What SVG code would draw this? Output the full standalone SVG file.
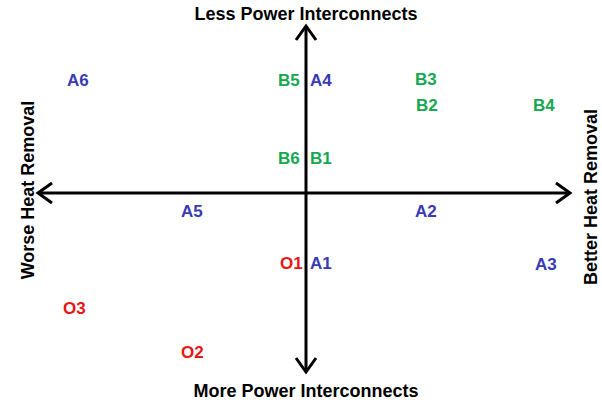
<svg xmlns="http://www.w3.org/2000/svg" width="602" height="404" viewBox="0 0 602 404">
<style>
.t{font-family:"Liberation Sans",Arial,sans-serif;font-weight:bold;font-size:18px;fill:#000}
.l{font-family:"Liberation Sans",Arial,sans-serif;font-weight:bold;font-size:17px}
.b{fill:#3a3ab4}.g{fill:#16a750}.r{fill:#e81515}
.ax{stroke:#000;stroke-width:3;fill:none}
</style>
<rect width="602" height="404" fill="#fff"/>
<g id="axes">
<path class="ax" d="M306 26V372M38 193H570"/>
<path class="ax" d="M296 40L306 26L316 40M296 358L306 372L316 358M52 183L38 193L52 203M556 183L570 193L556 203"/>
</g>
<g id="axis-labels">
<text class="t" x="306" y="20" text-anchor="middle">Less Power Interconnects</text>
<text class="t" x="306" y="397" text-anchor="middle">More Power Interconnects</text>
<text class="t" transform="translate(34,190) rotate(-90)" text-anchor="middle">Worse Heat Removal</text>
<text class="t" transform="translate(597,197) rotate(-90)" text-anchor="middle">Better Heat Removal</text>
</g>
<g id="points">
<text class="l b" x="67" y="86">A6</text>
<text class="l g" x="278" y="86">B5</text>
<text class="l b" x="310" y="86">A4</text>
<text class="l g" x="415" y="85">B3</text>
<text class="l g" x="416" y="111">B2</text>
<text class="l g" x="533" y="111">B4</text>
<text class="l g" x="278" y="164">B6</text>
<text class="l g" x="310" y="164">B1</text>
<text class="l b" x="181" y="217">A5</text>
<text class="l b" x="415" y="217">A2</text>
<text class="l r" x="280" y="269">O1</text>
<text class="l b" x="310" y="269">A1</text>
<text class="l b" x="535" y="270">A3</text>
<text class="l r" x="63" y="314">O3</text>
<text class="l r" x="181" y="358">O2</text>
</g>
</svg>
